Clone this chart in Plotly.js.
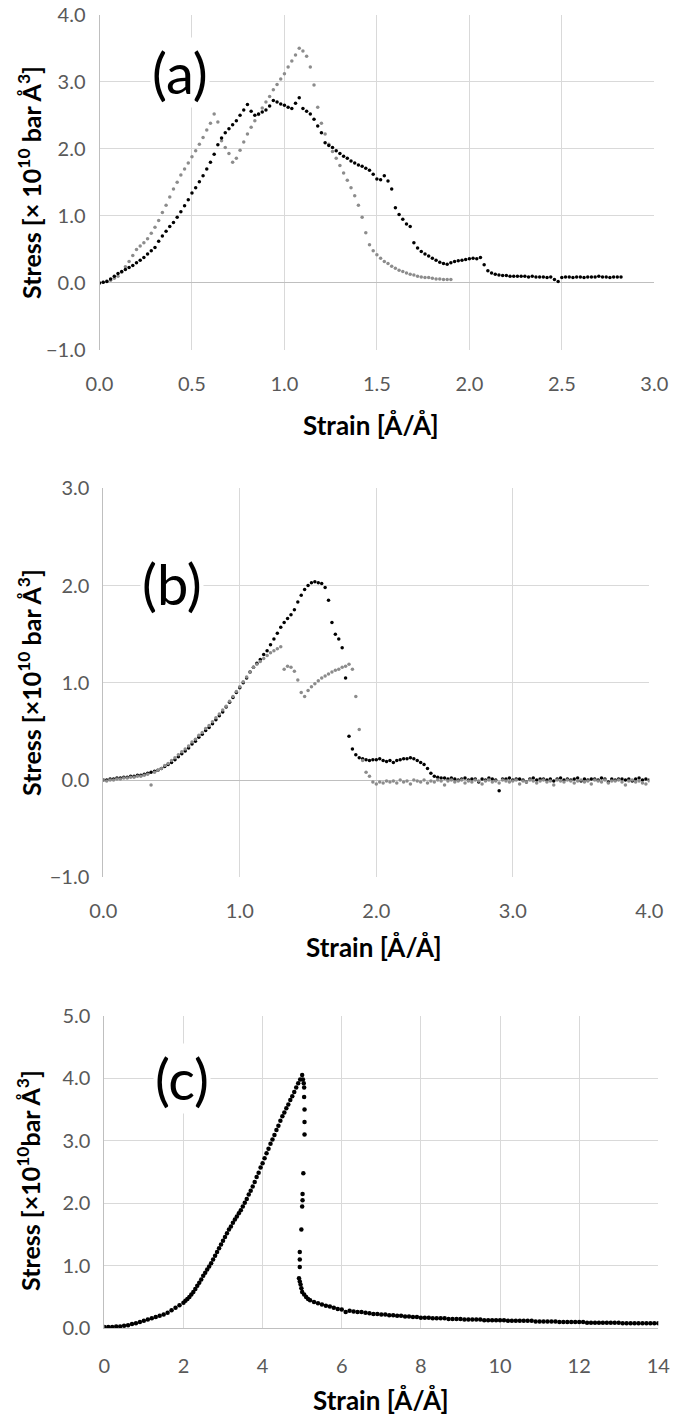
<!DOCTYPE html>
<html>
<head>
<meta charset="utf-8">
<script src="https://cdn.plot.ly/plotly-3.0.1.min.js"></script>
<style>html,body{margin:0;padding:0;background:#fff;}#chart{width:673px;height:1422px;}</style>
</head>
<body>
<div id="chart"></div>
<script>
// ---------- Panel (a): strain sampled from 0 in steps of 0.02 ----------
const aStart = 0, aStep = 0.02;
const aGrayStress = [
 0.00,0.01,0.03,0.04,0.07,0.10,0.16,0.24,0.32,0.41,
 0.50,0.55,0.60,0.66,0.74,0.83,0.93,1.05,1.16,1.28,
 1.40,1.50,1.61,1.70,1.79,1.88,1.97,2.07,2.17,2.28,
 2.38,2.52,2.40,2.12,2.02,1.93,1.80,1.86,1.98,2.10,
 2.22,2.32,2.42,2.51,2.61,2.70,2.78,2.88,2.96,3.04,
 3.12,3.22,3.31,3.40,3.50,3.46,3.38,3.22,2.95,2.62,
 2.38,2.22,2.07,1.96,1.86,1.75,1.64,1.53,1.42,1.30,
 1.16,0.98,0.75,0.57,0.48,0.42,0.37,0.32,0.29,0.25,
 0.22,0.19,0.17,0.15,0.13,0.12,0.10,0.09,0.08,0.08,
 0.07,0.06,0.06,0.05,0.05,0.05
];
const aBlackStress = [
 0.00,0.01,0.02,0.06,0.10,0.14,0.17,0.20,0.23,0.26,
 0.30,0.34,0.38,0.43,0.48,0.53,0.62,0.70,0.77,0.84,
 0.90,0.98,1.06,1.15,1.24,1.34,1.42,1.51,1.60,1.70,
 1.80,1.92,2.06,2.16,2.24,2.30,2.36,2.42,2.50,2.58,
 2.66,2.56,2.50,2.52,2.55,2.58,2.64,2.72,2.70,2.67,
 2.65,2.62,2.60,2.68,2.76,2.60,2.56,2.52,2.44,2.34,
 2.24,2.09,2.05,2.02,1.97,1.93,1.89,1.86,1.82,1.79,
 1.76,1.74,1.71,1.68,1.62,1.55,1.54,1.60,1.52,1.40,
 1.12,1.02,0.95,0.88,0.84,0.60,0.52,0.47,0.43,0.40,
 0.37,0.34,0.31,0.29,0.28,0.30,0.32,0.33,0.34,0.35,
 0.36,0.37,0.36,0.38,0.27,0.18,0.15,0.13,0.12,0.11,
 0.11,0.10,0.10,0.10,0.10,0.10,0.09,0.10,0.09,0.09,
 0.09,0.08,0.09,0.05,0.02,0.08,0.09,0.09,0.08,0.09,
 0.09,0.08,0.09,0.09,0.09,0.10,0.09,0.09,0.08,0.09,
 0.09,0.09
];

// ---------- Panel (b): strain sampled from 0 in steps of 0.025 ----------
const bStart = 0, bStep = 0.025;
const bBlackStress = [
 0.00,0.00,0.01,0.01,0.02,0.02,0.03,0.03,0.04,0.04,
 0.05,0.05,0.06,0.07,0.08,0.09,0.10,0.12,0.14,0.16,
 0.18,0.21,0.24,0.27,0.30,0.33,0.37,0.40,0.44,0.47,
 0.51,0.54,0.58,0.62,0.66,0.70,0.75,0.80,0.85,0.90,
 0.95,1.00,1.05,1.11,1.16,1.20,1.24,1.29,1.33,1.39,
 1.45,1.51,1.57,1.62,1.66,1.70,1.75,1.83,1.90,1.96,
 2.00,2.03,2.04,2.03,2.02,1.98,1.85,1.62,1.50,1.45,
 1.36,1.05,0.45,0.32,0.26,0.23,0.22,0.21,0.20,0.21,
 0.21,0.22,0.20,0.19,0.20,0.18,0.20,0.21,0.22,0.22,
 0.23,0.22,0.20,0.18,0.16,0.12,0.07,0.04,0.03,0.02,
 0.02,
 0.01,0.02,0.01,0.00,0.01,0.02,0.00,0.01,0.01,-0.02,
 0.01,0.00,0.02,0.01,0.00,-0.11,0.01,0.01,0.02,0.00,
 0.01,0.01,0.00,-0.02,0.01,0.02,0.00,0.01,0.01,0.00,
 0.01,-0.01,0.01,0.02,0.00,0.01,0.00,0.01,0.02,-0.01,
 0.01,0.00,0.01,0.01,0.00,0.02,0.01,-0.02,0.01,0.00,
 0.01,0.01,0.00,0.01,-0.01,0.01,0.02,0.00,0.01,0.00
];
const bGrayStress = [
 0.00,-0.01,0.00,0.00,0.01,0.01,0.02,0.02,0.03,0.03,
 0.04,0.04,0.05,0.06,-0.05,0.08,0.10,0.12,0.15,0.17,
 0.20,0.23,0.26,0.29,0.32,0.35,0.39,0.42,0.46,0.49,
 0.53,0.56,0.60,0.64,0.68,0.72,0.76,0.81,0.86,0.91,
 0.96,1.01,1.06,1.11,1.16,1.19,1.22,1.25,1.28,1.31,
 1.33,1.35,1.37,1.14,1.17,1.16,1.12,1.03,0.90,0.86,
 0.92,0.96,0.99,1.02,1.05,1.07,1.09,1.11,1.13,1.14,
 1.16,1.17,1.19,1.14,0.86,0.52,0.20,0.08,0.04,-0.02,
 -0.04,-0.02,-0.03,-0.01,-0.02,
 -0.01,-0.03,0.00,-0.02,-0.01,-0.04,0.00,-0.01,-0.02,0.00,
 -0.03,-0.01,-0.02,0.00,-0.01,-0.05,-0.01,0.00,-0.02,-0.01,
 0.00,-0.03,-0.01,-0.02,0.00,-0.01,-0.04,-0.01,0.00,-0.02,
 -0.01,-0.03,0.00,-0.01,-0.02,-0.01,0.00,-0.04,-0.01,-0.02,
 0.00,-0.01,-0.03,-0.01,0.00,-0.02,-0.01,-0.05,0.00,-0.01,
 -0.02,0.00,-0.01,-0.03,-0.01,0.00,-0.02,-0.01,-0.04,0.00,
 -0.01,-0.02,0.00,-0.03,-0.01,-0.01,0.00,-0.02,-0.05,-0.01,
 0.00,-0.02,-0.01,-0.03,-0.04,-0.01
];

// ---------- Panel (c) ----------
const cStrain = [
 0.0,0.1,0.2,0.3,0.4,0.5,0.6,0.7,0.8,0.9,1.0,1.1,1.2,1.3,1.4,1.5,1.6,1.7,1.8,1.9,2.0,
 2.05,2.1,2.15,2.2,2.25,2.3,2.35,2.4,2.45,2.5,2.55,2.6,2.65,2.7,2.75,2.8,2.85,2.9,2.95,3.0,
 3.05,3.1,3.15,3.2,3.25,3.3,3.35,3.4,3.45,3.5,3.55,3.6,3.65,3.7,3.75,3.8,3.85,3.9,3.95,4.0,
 4.05,4.1,4.15,4.2,4.25,4.3,4.35,4.4,4.45,4.5,4.55,4.6,4.65,4.7,4.75,4.8,4.85,4.9,4.95,5.0,
 5.02,5.04,5.05,5.05,5.06,5.06,5.06,5.03,5.01,5.01,5.00,4.98,4.94,4.94,4.94,4.92,4.94,4.96,4.98,5.00,5.05,5.10,5.15,5.20,5.30,
 5.4,5.5,5.6,5.7,5.8,5.9,6.0,6.1,6.2,6.3,6.4,6.5,6.6,6.7,6.8,6.9,7.0,7.1,7.2,7.3,
 7.4,7.5,7.6,7.7,7.8,7.9,8.0,8.1,8.2,8.3,8.4,8.5,8.6,8.7,8.8,8.9,9.0,9.1,9.2,9.3,
 9.4,9.5,9.6,9.7,9.8,9.9,10.0,10.1,10.2,10.3,10.4,10.5,10.6,10.7,10.8,10.9,11.0,11.1,11.2,11.3,
 11.4,11.5,11.6,11.7,11.8,11.9,12.0,12.1,12.2,12.3,12.4,12.5,12.6,12.7,12.8,12.9,13.0,13.1,13.2,13.3,
 13.4,13.5,13.6,13.7,13.8,13.9,14.0
];
const cStress = [
 0.02,0.02,0.02,0.03,0.03,0.04,0.05,0.07,0.08,0.10,0.12,0.14,0.16,0.18,0.20,0.22,0.25,0.29,0.33,0.37,0.41,
 0.44,0.47,0.50,0.54,0.58,0.63,0.68,0.73,0.78,0.84,0.89,0.94,0.99,1.04,1.10,1.16,1.22,1.28,1.34,1.40,
 1.46,1.52,1.58,1.63,1.69,1.74,1.79,1.84,1.89,1.95,2.01,2.07,2.14,2.20,2.27,2.34,2.42,2.49,2.57,2.64,
 2.72,2.80,2.87,2.95,3.02,3.09,3.17,3.24,3.32,3.39,3.45,3.52,3.58,3.65,3.71,3.78,3.85,3.92,3.98,4.05,
 3.98,3.92,3.85,3.70,3.50,3.30,3.10,2.48,2.15,2.05,1.95,1.58,1.22,1.10,0.98,0.80,0.75,0.70,0.64,0.58,0.54,0.50,0.47,0.45,0.42,
 0.40,0.38,0.36,0.35,0.33,0.31,0.30,0.26,0.28,0.27,0.26,0.26,0.25,0.24,0.23,0.23,0.22,0.22,0.21,0.21,
 0.20,0.20,0.19,0.19,0.18,0.18,0.17,0.17,0.17,0.16,0.16,0.16,0.16,0.15,0.15,0.15,0.15,0.14,0.14,0.14,
 0.14,0.14,0.13,0.13,0.13,0.13,0.13,0.13,0.12,0.12,0.12,0.12,0.12,0.12,0.12,0.11,0.11,0.11,0.11,0.11,
 0.11,0.10,0.10,0.10,0.10,0.10,0.10,0.10,0.09,0.09,0.09,0.09,0.09,0.09,0.09,0.09,0.09,0.08,0.08,0.08,
 0.08,0.08,0.08,0.08,0.08,0.08,0.08
];

const panelLabels = ['(a)', '(b)', '(c)'];
const yTitles = [
  'Stress [× 10<sup>10</sup> bar Å<sup>3</sup>]',
  'Stress [×10<sup>10</sup> bar Å<sup>3</sup>]',
  'Stress [×10<sup>10</sup>bar Å<sup>3</sup>]'
];
const xTitle = 'Strain [Å/Å]';

const FONT = 'Lato, "Open Sans", sans-serif';
const BLACK = '#000000', GRAY = '#8c8c8c';
const GRID = '#d9d9d9', AXIS = '#bfbfbf', TICK = '#595959';

const traces = [
  {type:'scatter', mode:'markers', x0:aStart, dx:aStep, y:aGrayStress, xaxis:'x', yaxis:'y',
   marker:{size:3.5, color:GRAY}},
  {type:'scatter', mode:'markers', x0:aStart, dx:aStep, y:aBlackStress, xaxis:'x', yaxis:'y',
   marker:{size:3.5, color:BLACK}},
  {type:'scatter', mode:'markers', x0:bStart, dx:bStep, y:bBlackStress, xaxis:'x2', yaxis:'y2',
   marker:{size:3.5, color:BLACK}},
  {type:'scatter', mode:'markers', x0:bStart, dx:bStep, y:bGrayStress, xaxis:'x2', yaxis:'y2',
   marker:{size:3.5, color:GRAY}},
  {type:'scatter', mode:'markers', x:cStrain, y:cStress, xaxis:'x3', yaxis:'y3',
   marker:{size:4.5, color:BLACK}}
];

function xa(domain, range, dtick, fmt, anchor, showBottomLine){
  return {domain:domain, range:range, dtick:dtick, tick0:0, tickformat:fmt, anchor:anchor,
    showgrid:true, gridcolor:GRID, gridwidth:1, zeroline:false,
    showline:!!showBottomLine, linecolor:AXIS, linewidth:1,
    ticks:'', ticklabelstandoff:20, fixedrange:true,
    tickfont:{family:FONT, size:20, color:TICK}};
}
function ya(domain, range, anchor){
  return {domain:domain, range:range, dtick:1, tick0:0, tickformat:'.1f', anchor:anchor,
    showgrid:true, gridcolor:GRID, gridwidth:1, zeroline:true, zerolinecolor:AXIS, zerolinewidth:1,
    showline:true, linecolor:AXIS, linewidth:1,
    ticks:'', ticklabelstandoff:9, fixedrange:true,
    tickfont:{family:FONT, size:20, color:TICK}};
}

const W = 673, H = 1422;
const px = v => v / W;
const py = v => 1 - v / H;

const annotations = [];
const labelPos = [[180, 72], [172, 584], [182, 1078]];
const yTitlePos = [[30, 183], [29, 683], [28, 1181]];
const xTitlePos = [[371, 425], [374, 947], [381, 1400]];
for (let i = 0; i < 3; i++) {
  annotations.push({xref:'paper', yref:'paper', x:px(labelPos[i][0]), y:py(labelPos[i][1]),
    xanchor:'center', yanchor:'middle', text:panelLabels[i], showarrow:false,
    bgcolor:'#ffffff', borderpad:1, font:{family:FONT, size:56, color:'#000'}});
  annotations.push({xref:'paper', yref:'paper', x:px(yTitlePos[i][0]), y:py(yTitlePos[i][1]),
    xanchor:'center', yanchor:'middle', textangle:-90, text:yTitles[i], showarrow:false,
    font:{family:FONT, size:25, weight:'bold', color:'#000'}});
  annotations.push({xref:'paper', yref:'paper', x:px(xTitlePos[i][0]), y:py(xTitlePos[i][1]),
    xanchor:'center', yanchor:'middle', text:xTitle, showarrow:false,
    font:{family:FONT, size:26, weight:'bold', color:'#000'}});
}

const layout = {
  width:W, height:H, autosize:false,
  margin:{l:0, r:0, t:0, b:0, pad:0},
  paper_bgcolor:'#ffffff', plot_bgcolor:'#ffffff',
  showlegend:false,
  font:{family:FONT, color:TICK},
  xaxis: xa([px(99.5), px(654.3)], [0, 3], 0.5, '.1f', 'y', false),
  yaxis: ya([py(350), py(14.7)], [-1, 4], 'x'),
  xaxis2: xa([px(103.3), px(649.3)], [0, 4], 1, '.1f', 'y2', false),
  yaxis2: ya([py(877.3), py(488.3)], [-1, 3], 'x2'),
  xaxis3: xa([px(104.3), px(658.3)], [0, 14], 2, 'd', 'y3', true),
  yaxis3: ya([py(1328.3), py(1015.7)], [0, 5], 'x3'),
  annotations: annotations
};

Plotly.newPlot('chart', traces, layout, {staticPlot:true, displayModeBar:false});
</script>
</body>
</html>
